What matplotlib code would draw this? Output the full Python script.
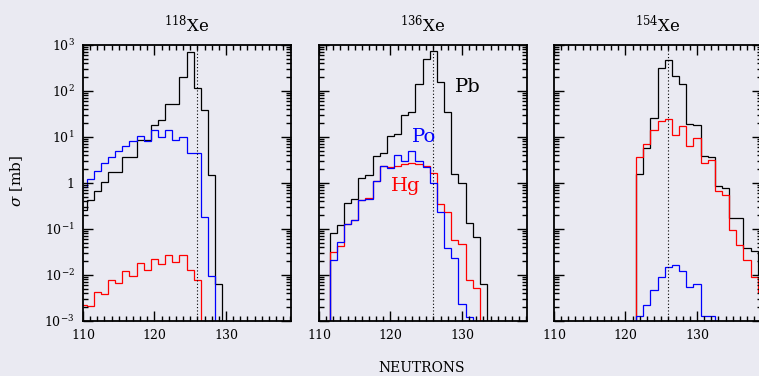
import matplotlib.pyplot as plt
import numpy as np
from matplotlib.ticker import MultipleLocator, LogLocator, FuncFormatter, NullFormatter

plt.rcParams['font.family'] = 'DejaVu Serif'
plt.rcParams['mathtext.fontset'] = 'dejavuserif'

bg = '#eaeaf2'

# cross sections [mb] per neutron number, one value per bin starting at *_start
# 118Xe
pb118_start = 110
pb118 = [0.26, 0.42, 0.68, 1.06, 1.75, 1.75, 3.7, 3.7, 8.5, 8.5, 18, 24, 53, 52,
         202, 705, 119, 38, 1.48, 0.0064]
po118_start = 110
po118 = [0.83, 1.21, 1.84, 2.66, 3.7, 5.0, 6.3, 8.2, 10.4, 8.2, 14, 10, 14.5, 8.8,
         10, 4.4, 4.5, 0.179, 0.0097]
hg118_start = 110
hg118 = [0.0022, 0.0021, 0.0043, 0.0039, 0.0078, 0.0066, 0.0124, 0.0095, 0.0179,
         0.0128, 0.022, 0.0175, 0.0276, 0.019, 0.0266, 0.0128, 0.0078]

# 136Xe
pb136_start = 112
pb136 = [0.083, 0.122, 0.37, 0.46, 1.3, 1.48, 3.8, 4.4, 10.4, 11.9, 30.7, 35, 145,
         497, 741, 157, 35, 1.6, 0.98, 0.132, 0.068, 0.0064]
po136_start = 112
po136 = [0.021, 0.053, 0.126, 0.156, 0.42, 0.46, 1.12, 2.36, 2.17, 4.0, 3.0, 5.0,
         3.0, 2.25, 0.98, 0.23, 0.038, 0.023, 0.0024, 0.0012]
hg136_start = 112
hg136 = [0.031, 0.043, 0.126, 0.156, 0.42, 0.47, 1.12, 2.36, 2.25, 2.4, 2.6, 2.7,
         2.6, 2.3, 1.67, 0.35, 0.24, 0.059, 0.047, 0.0078, 0.0051]

# 154Xe
pb154_start = 122
pb154 = [1.6, 5.8, 26.5, 322, 465, 212, 145, 18.7, 18, 3.9, 3.7, 0.85, 0.78, 0.176,
         0.17, 0.038, 0.034, 0.01]
po154_start = 122
po154 = [0.0013, 0.0022, 0.0047, 0.0089, 0.0147, 0.0165, 0.0124, 0.0055, 0.0065,
         0.0013, 0.0013]
hg154_start = 122
hg154 = [3.6, 7.2, 14, 22.4, 25, 10.8, 17.7, 6.5, 9.3, 2.74, 3.1, 0.68, 0.56, 0.095,
         0.045, 0.021, 0.0092, 0.004]

panels = [
    ("118", [(pb118_start, pb118, 'k'), (hg118_start, hg118, 'r'), (po118_start, po118, 'b')]),
    ("136", [(pb136_start, pb136, 'k'), (hg136_start, hg136, 'r'), (po136_start, po136, 'b')]),
    ("154", [(pb154_start, pb154, 'k'), (hg154_start, hg154, 'r'), (po154_start, po154, 'b')]),
]


def fmt(v, pos):
    e = int(round(np.log10(v)))
    if e == 0:
        return '1'
    return r'$10^{%d}$' % e


fig = plt.figure(figsize=(7.59, 3.76), dpi=100, facecolor=bg)
W, H = 759., 376.
lefts = [83, 319, 554]
for i, (mass, series) in enumerate(panels):
    ax = fig.add_axes([lefts[i] / W, 55 / H, 208 / W, 276 / H], facecolor=bg)
    for start, vals, c in series:
        edges = start - 0.5 + np.arange(len(vals) + 1)
        ax.stairs(vals, edges, baseline=1e-6, color=c, lw=0.9)
    ax.axvline(126, color='k', ls=(0, (1, 2)), lw=0.8)
    ax.set_yscale('log')
    ax.set_xlim(110, 139.1)
    ax.set_ylim(1e-3, 1e3)
    ax.xaxis.set_major_locator(MultipleLocator(10))
    ax.xaxis.set_minor_locator(MultipleLocator(1))
    ax.yaxis.set_major_locator(LogLocator(base=10, numticks=10))
    ax.yaxis.set_minor_locator(LogLocator(base=10, subs=np.arange(2, 10), numticks=20))
    ax.yaxis.set_minor_formatter(NullFormatter())
    ax.yaxis.set_major_formatter(FuncFormatter(fmt))
    ax.tick_params(which='both', direction='in', top=True, right=True, width=1.0)
    ax.tick_params(which='major', length=7, labelsize=9, pad=6)
    ax.tick_params(which='minor', length=3.5)
    if i > 0:
        ax.tick_params(labelleft=False)
    for s in ax.spines.values():
        s.set_linewidth(1.3)
    ax.set_title(r'$^{%s}$Xe' % mass, fontsize=12, pad=9)
    if i == 1:
        ax.text(129.0, 97, 'Pb', color='k', fontsize=14, ha='left', va='baseline')
        ax.text(123.0, 7.9, 'Po', color='b', fontsize=14, ha='left', va='baseline')
        ax.text(120.0, 0.67, 'Hg', color='r', fontsize=14, ha='left', va='baseline')

fig.text(422 / W, 1 - 368 / H, 'NEUTRONS', ha='center', va='center', fontsize=10)
fig.text(17 / W, 1 - 181 / H, r'$\sigma$ [mb]', ha='center', va='center',
         rotation=90, fontsize=11)

fig.savefig('out.png', dpi=100, facecolor=bg)
